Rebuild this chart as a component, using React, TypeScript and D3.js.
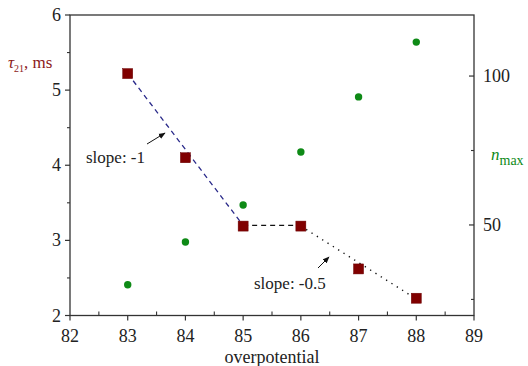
import React from "react";
import * as d3 from "d3";

const overpotential = [83, 84, 85, 86, 87, 88];
const tau21 = [5.22, 4.1, 3.19, 3.19, 2.62, 2.23];
const nmax = [29.9, 44.3, 56.7, 74.5, 93, 111.4];
const xTicks = [82, 83, 84, 85, 86, 87, 88, 89];
const yLeftTicks = [2, 3, 4, 5, 6];
const yRightTicks = [50, 100];
const fitSteep = [
  [83, 5.22],
  [85, 3.2],
];
const fitFlat = [
  [85, 3.2],
  [86, 3.2],
];
const fitHalf = [
  [86, 3.19],
  [88, 2.22],
];

const W = 528;
const H = 366;
const L = 70;
const R = 474;
const T = 15;
const B = 315.5;
const FONT = "'Liberation Serif', 'DejaVu Serif', serif";
const RED = "#800000";
const GREEN = "#0e8a16";

export default function App() {
  const x = d3.scaleLinear().domain([82, 89]).range([L, R]);
  const yL = d3.scaleLinear().domain([2, 6]).range([B, T]);
  const yR = d3.scaleLinear().domain([19.6, 120.5]).range([B, T]);
  const line = d3
    .line<number[]>()
    .x((d) => x(d[0]))
    .y((d) => yL(d[1]));

  const xMinor = d3.range(82.5, 89, 1);
  const yMinor = d3.range(2.5, 6, 1);
  const yRMinor = [25, 75];

  return (
    <svg
      width={W}
      height={H}
      style={{ position: "absolute", left: 0, top: 0, background: "#fff" }}
      fontFamily={FONT}
    >
      <defs>
        <marker id="arr" viewBox="0 0 10 10" refX="9" refY="5" markerWidth="7" markerHeight="7" orient="auto">
          <path d="M0,1 L10,5 L0,9 z" fill="#111" />
        </marker>
      </defs>
      <rect x={L} y={T} width={R - L} height={B - T} fill="none" stroke="#333" strokeWidth={1.3} />
      {xTicks.map((t) => (
        <g key={"x" + t}>
          <line x1={x(t)} x2={x(t)} y1={B} y2={B + 5} stroke="#333" strokeWidth={1.2} />
          <text x={x(t)} y={B + 26} fontSize={18} textAnchor="middle" fill="#222">
            {t}
          </text>
        </g>
      ))}
      {xMinor.map((t) => (
        <line key={"xm" + t} x1={x(t)} x2={x(t)} y1={B} y2={B - 4} stroke="#333" strokeWidth={1.1} />
      ))}
      <text x={(L + R) / 2} y={B + 47} fontSize={18} textAnchor="middle" fill="#222">
        overpotential
      </text>
      {yLeftTicks.map((t) => (
        <g key={"yl" + t}>
          <line x1={L - 5} x2={L} y1={yL(t)} y2={yL(t)} stroke="#333" strokeWidth={1.2} />
          <text x={L - 9} y={yL(t) + 6} fontSize={18} textAnchor="end" fill="#222">
            {t}
          </text>
        </g>
      ))}
      {yMinor.map((t) => (
        <line key={"ylm" + t} x1={L - 3} x2={L} y1={yL(t)} y2={yL(t)} stroke="#333" strokeWidth={1.1} />
      ))}
      {yRightTicks.map((t) => (
        <g key={"yr" + t}>
          <line x1={R - 5} x2={R} y1={yR(t)} y2={yR(t)} stroke="#333" strokeWidth={1.2} />
          <text x={R + 9} y={yR(t) + 6} fontSize={18} textAnchor="start" fill="#222">
            {t}
          </text>
        </g>
      ))}
      {yRMinor.map((t) => (
        <line key={"yrm" + t} x1={R - 3} x2={R} y1={yR(t)} y2={yR(t)} stroke="#333" strokeWidth={1.1} />
      ))}
      <text x={8} y={68} fontSize={17} fill="#8b1a1a">
        <tspan fontStyle="italic">τ</tspan>
        <tspan fontSize={10} dy={4}>21</tspan>
        <tspan dy={-4}>, ms</tspan>
      </text>
      <text x={491} y={160} fontSize={17} fill={GREEN}>
        <tspan fontStyle="italic">n</tspan>
        <tspan fontSize={14} dy={5}>max</tspan>
      </text>
      <path d={line(fitSteep as any) || ""} fill="none" stroke="#2a2a8a" strokeWidth={1.3} strokeDasharray="5,4" />
      <path d={line(fitFlat as any) || ""} fill="none" stroke="#111" strokeWidth={1.3} strokeDasharray="5,4" />
      <path d={line(fitHalf as any) || ""} fill="none" stroke="#111" strokeWidth={1.4} strokeDasharray="1.3,5" />
      {overpotential.map((v, i) => (
        <circle key={"g" + v} cx={x(v)} cy={yR(nmax[i])} r={3.7} fill={GREEN} />
      ))}
      {overpotential.map((v, i) => (
        <rect key={"r" + v} x={x(v) - 5} y={yL(tau21[i]) - 5} width={10} height={10} fill={RED} stroke="#6a0000" strokeWidth={0.5} />
      ))}
      <text x={86} y={163} fontSize={17} fill="#222">
        slope: -1
      </text>
      <line x1={147} y1={144} x2={165} y2={133} stroke="#111" strokeWidth={1} markerEnd="url(#arr)" />
      <text x={254} y={289} fontSize={17} fill="#222">
        slope: -0.5
      </text>
      <line x1={318} y1={268} x2={329} y2={257} stroke="#111" strokeWidth={1} markerEnd="url(#arr)" />
    </svg>
  );
}
